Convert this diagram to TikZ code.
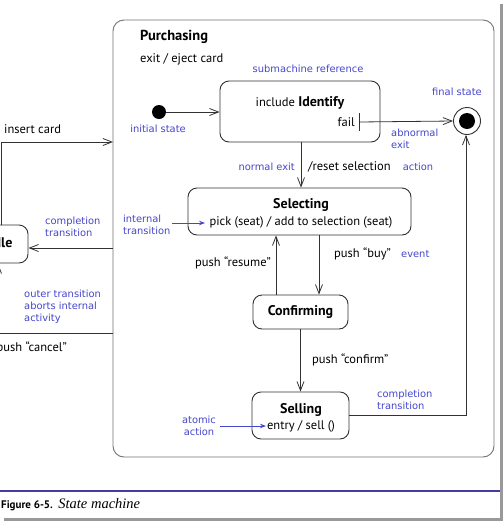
\documentclass[tikz,border=0pt]{standalone}
\usepackage{fontspec}
\setmainfont{PT Sans}
\newfontfamily\capserif{Liberation Serif}
\newfontfamily\blfont{DejaVu Sans}
\usetikzlibrary{arrows.meta}
\definecolor{lblue}{RGB}{70,70,205}
\definecolor{lineg}{RGB}{50,50,50}
\definecolor{rulec}{RGB}{70,60,160}
\begin{document}
\begin{tikzpicture}[x=1pt,y=-1pt,
  txt/.style={inner sep=0pt,text=black,font=\fontsize{12.5}{14}\selectfont},
  btxt/.style={inner sep=0pt,text=black,font=\fontsize{14}{16}\selectfont\bfseries},
  blbl/.style={inner sep=0pt,text=lblue,align=left,font=\blfont\fontsize{9.9}{12}\selectfont},
  statebox/.style={draw=lineg,line width=0.9pt,rounded corners=9pt,inner sep=0pt},
  tr/.style={draw=lineg,line width=0.8pt,-{Straight Barb[length=9pt,width=7pt]}},
  btr/.style={draw=lblue,line width=0.8pt,-{Stealth[length=6pt,width=4.5pt]}}]
\useasboundingbox (0,0) rectangle (504,523);
\fill[white] (0,0) rectangle (504,523);
% shadow frame
\draw[gray!80,line width=2.2pt] (501.5,4) -- (501.5,519.5) -- (4,519.5);
% Purchasing composite state
\node[statebox,draw=gray!90!black,rounded corners=11pt,minimum width=381pt,minimum height=437pt] (purch) at (303.5,238.5) {};
\node[btxt,anchor=west,font=\fontsize{14.5}{16}\selectfont\bfseries] (ptitle) at (140,37) {Purchasing};
\node[txt,anchor=west] (pexit) at (140,59) {exit / eject card};
% initial & final
\node[circle,fill=black,minimum size=14pt,inner sep=0pt] (init) at (159,112) {};
\node[blbl] (initl) at (158,129) {initial state};
\node[circle,draw=lineg,line width=0.9pt,minimum size=27pt,inner sep=0pt] (final) at (467,121) {};
\node[circle,fill=black,minimum size=16pt,inner sep=0pt] (finalin) at (final) {};
\node[blbl] (finall) at (457,92) {final state};
% Identify
\node[statebox,minimum width=160pt,minimum height=61pt] (ident) at (300,111.5) {};
\node[txt] (identt) at (300,103) {include \textbf{\fontsize{14}{16}\selectfont Identify}};
\node[txt,anchor=east] (fail) at (355,122) {fail};
\coordinate (failbar) at (359,122);
\draw[lineg,line width=0.8pt] (359,113) -- (359,131);
\node[blbl] (subm) at (308,69) {submachine reference};
\node[blbl,anchor=west] (abn) at (391,139) {abnormal\\exit};
% Selecting
\node[statebox,minimum width=223pt,minimum height=47pt] (sel) at (299.5,211.5) {};
\node[btxt] (selt) at (301,205) {Selecting};
\node[txt] (selp) at (301,222) {pick (seat) / add to selection (seat)};
\node[blbl,anchor=west] (intl) at (123,224.5) {internal\\transition};
\coordinate (inta) at (172,223);
\coordinate (intb) at (205,223);
\draw[btr] (inta) -- (intb);
% Confirming
\node[statebox,minimum width=95pt,minimum height=34pt,btxt] (conf) at (300.5,312) {Confirming};
% Selling
\node[statebox,minimum width=97pt,minimum height=47pt] (sell) at (300.5,415.5) {};
\node[btxt] (sellt) at (301,410) {Selling};
\node[txt] (selle) at (301,426) {entry / sell ()};
\node[blbl,align=center] (atom) at (199,426) {atomic\\action};
\coordinate (ata) at (220,426);
\coordinate (atb) at (266,426);
\draw[btr] (ata) -- (atb);
% Idle (cut off at the left edge, as in the source)
\node[statebox,minimum width=58pt,minimum height=38pt] (idle) at (-1,244) {};
\node[btxt] (idlet) at (1,243) {Idle};
% transitions inside
\draw[tr] (init.east) -- (init -| ident.west);
\draw[tr] (failbar) -- (final.west);
\draw[tr] ([xshift=1pt]ident.south) -- ([xshift=1pt]ident.south |- sel.north);
\node[blbl,anchor=east] (nexit) at (295,167) {normal exit};
\node[txt,anchor=west] (reset) at (308,167) {/reset selection};
\node[blbl] (actl) at (418,167) {action};
\draw[tr] ([xshift=-24.5pt]conf.north) -- ([xshift=-24.5pt]conf.north |- sel.south);
\draw[tr] ([xshift=18.5pt]conf.north |- sel.south) -- ([xshift=18.5pt]conf.north);
\node[txt,anchor=east] (resume) at (271,263) {push “resume”};
\node[txt,anchor=west] (buy) at (334,254) {push “buy”};
\node[blbl,anchor=west] (evt) at (401,254) {event};
\draw[tr] (conf.south) -- (sell.north);
\node[txt,anchor=west] (confirm) at (312,360) {push “confirm”};
\draw[tr] (sell.east) -| ([xshift=-1pt]final.south);
\node[blbl,anchor=west] (compl) at (377,400) {completion\\transition};
% outer transitions
\coordinate (ica) at (1,225);
\coordinate (icb) at (113,142);
\draw[tr] (ica) |- (icb);
\node[txt,anchor=west] (insert) at (4,129) {insert card};
\coordinate (cta) at (113,248);
\draw[tr] (cta) -- (idle.east |- cta);
\node[blbl,anchor=west] (compl2) at (45,226.5) {completion\\transition};
\coordinate (cca) at (113,333);
\draw[tr] (cca) -| ([xshift=-1pt]idle.south);
\node[blbl,anchor=west] (outer) at (24,307) {outer transition\\aborts internal\\activity};
\node[txt,anchor=east] (cancel) at (67,348) {push “cancel”};
% caption
\draw[rulec,line width=1.2pt] (0,491) -- (500,491);
\node[inner sep=0pt,anchor=west,font=\fontsize{11}{12}\selectfont] (cap) at (1,505) {\textbf{Figure 6-5.}\enspace{\capserif\itshape\fontsize{14.5}{15}\selectfont State machine}};
\end{tikzpicture}
\end{document}
